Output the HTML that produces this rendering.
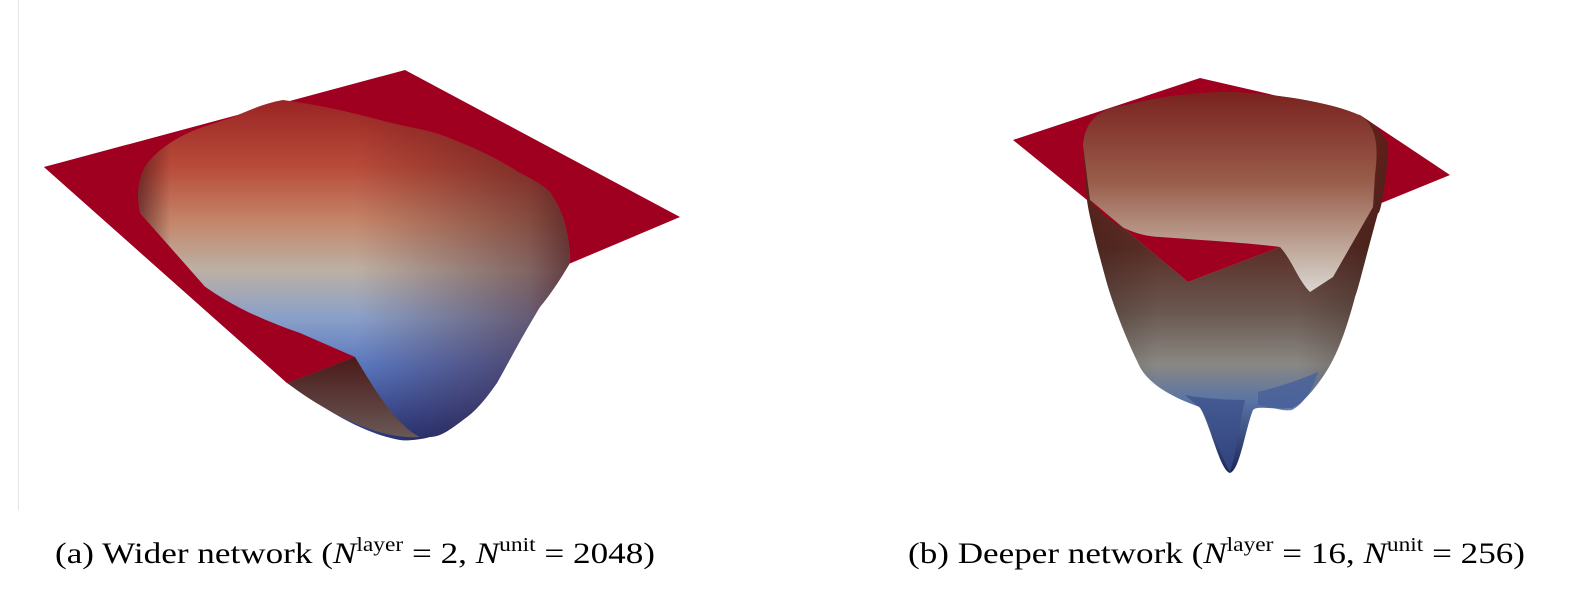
<!DOCTYPE html>
<html><head><meta charset="utf-8"><style>
html,body{margin:0;padding:0;background:#fff;}
svg{display:block;}
text{font-family:"Liberation Serif",serif;fill:#000;}
</style></head><body>
<svg width="1588" height="601" viewBox="0 0 1588 601">
<defs>
<linearGradient id="bowlA" x1="0" y1="100" x2="0" y2="440" gradientUnits="userSpaceOnUse">
<stop offset="0" stop-color="#9a2424"/>
<stop offset="0.2" stop-color="#b84c3a"/>
<stop offset="0.36" stop-color="#c4866a"/>
<stop offset="0.5" stop-color="#bcb0a4"/>
<stop offset="0.64" stop-color="#8aa0c8"/>
<stop offset="0.78" stop-color="#5a78c0"/>
<stop offset="1" stop-color="#26367c"/>
</linearGradient>
<linearGradient id="shadeA" x1="140" y1="0" x2="572" y2="0" gradientUnits="userSpaceOnUse">
<stop offset="0" stop-color="#3a0810" stop-opacity="0.55"/>
<stop offset="0.07" stop-color="#3a0810" stop-opacity="0"/>
<stop offset="0.5" stop-color="#3a0810" stop-opacity="0"/>
<stop offset="0.9" stop-color="#3a0810" stop-opacity="0.45"/>
<stop offset="1" stop-color="#3a0810" stop-opacity="0.7"/>
</linearGradient>
<linearGradient id="foldA" x1="0" y1="357" x2="0" y2="440" gradientUnits="userSpaceOnUse">
<stop offset="0" stop-color="#4a1a18"/>
<stop offset="1" stop-color="#6a5a58"/>
</linearGradient>
<linearGradient id="cupOut" x1="0" y1="150" x2="0" y2="475" gradientUnits="userSpaceOnUse">
<stop offset="0" stop-color="#7a2a22"/>
<stop offset="0.3" stop-color="#5a2e26"/>
<stop offset="0.5" stop-color="#6a5850"/>
<stop offset="0.66" stop-color="#8a8884"/>
<stop offset="0.77" stop-color="#5a74a4"/>
<stop offset="1" stop-color="#1a2458"/>
</linearGradient>
<linearGradient id="cupIn" x1="0" y1="95" x2="0" y2="290" gradientUnits="userSpaceOnUse">
<stop offset="0" stop-color="#7a2420"/>
<stop offset="0.45" stop-color="#9a5e4c"/>
<stop offset="0.8" stop-color="#c0aa9c"/>
<stop offset="1" stop-color="#d8d4d0"/>
</linearGradient>
<linearGradient id="cupShade" x1="1080" y1="0" x2="1390" y2="0" gradientUnits="userSpaceOnUse">
<stop offset="0" stop-color="#200808" stop-opacity="0.3"/>
<stop offset="0.25" stop-color="#200808" stop-opacity="0"/>
<stop offset="0.7" stop-color="#200808" stop-opacity="0"/>
<stop offset="1" stop-color="#200808" stop-opacity="0.35"/>
</linearGradient>
</defs>

<line x1="18.5" y1="0" x2="18.5" y2="510" stroke="#e4e4e4" stroke-width="1"/>

<g>
<polygon points="44,167 405,70 680,217 287,383" fill="#a00020"/>
<path id="bowlPath" d="M140,213 C135,190 140,170 150,160 C160,148 180,135 200,128 L233,117 C250,110 265,103 283,100 C320,105 350,112 380,120 C410,128 430,130 447,137 C480,150 500,160 520,173 C540,183 550,190 553,197 C565,215 570,240 570,263 C560,280 550,295 540,307 C520,340 510,360 497,383 C485,400 475,412 463,420 C450,430 440,437 430,437 C420,440 405,441 400,440 C370,435 330,415 290,383 Z" fill="url(#bowlA)"/>
<path d="M140,213 C135,190 140,170 150,160 C160,148 180,135 200,128 L233,117 C250,110 265,103 283,100 C320,105 350,112 380,120 C410,128 430,130 447,137 C480,150 500,160 520,173 C540,183 550,190 553,197 C565,215 570,240 570,263 C560,280 550,295 540,307 C520,340 510,360 497,383 C485,400 475,412 463,420 C450,430 440,437 430,437 C420,440 405,441 400,440 C370,435 330,415 290,383 Z" fill="url(#shadeA)"/>
<path d="M287,383 L355,357 C372,385 395,425 420,437 C380,440 330,415 287,383 Z" fill="url(#foldA)"/>
<path d="M44,167 L200,128 C180,135 160,148 150,160 C140,170 135,190 140,213 C150,240 170,265 200,283 C220,298 240,308 250,313 C270,322 285,328 300,333 L355,357 L287,383 Z" fill="#a00020"/>
</g>

<g>
<polygon points="1013,140 1200,78 1360,115 1450,175 1188,282" fill="#a00020"/>
<path d="M1083,145 C1085,120 1100,108 1127,105 C1160,96 1200,92 1233,92 C1290,95 1340,105 1363,117 C1385,130 1390,145 1388,155 C1385,190 1380,215 1378,213 C1365,260 1358,290 1355,297 C1345,335 1335,360 1322,378 C1310,395 1300,405 1292,408 C1270,410 1258,405 1253,410 C1245,430 1240,470 1230,473 C1220,470 1212,430 1200,407 C1165,395 1145,380 1138,363 C1122,330 1110,295 1106,280 C1095,240 1088,210 1087,200 Z" fill="url(#cupOut)"/>
<path d="M1083,145 C1085,120 1100,108 1127,105 C1160,96 1200,92 1233,92 C1290,95 1340,105 1363,117 C1385,130 1390,145 1388,155 C1385,190 1380,215 1378,213 C1365,260 1358,290 1355,297 C1345,335 1335,360 1322,378 C1310,395 1300,405 1292,408 C1270,410 1258,405 1253,410 C1245,430 1240,470 1230,473 C1220,470 1212,430 1200,407 C1165,395 1145,380 1138,363 C1122,330 1110,295 1106,280 C1095,240 1088,210 1087,200 Z" fill="url(#cupShade)"/>
<path d="M1258,392 C1275,388 1300,380 1318,372 C1312,392 1302,405 1292,410 C1280,412 1268,405 1258,405 Z" fill="#48609a" opacity="0.8"/>
<path d="M1185,395 C1200,398 1225,400 1245,400 C1240,420 1236,455 1230,472 C1222,460 1212,425 1200,408 Z" fill="#3a4f8a" opacity="0.7"/>
<path d="M1083,145 C1085,120 1100,108 1127,105 C1160,96 1200,92 1233,92 C1290,95 1340,105 1363,117 C1378,130 1378,150 1375,175 L1373,207 L1333,277 L1310,292 C1298,280 1292,260 1280,247 L1188,282 L1090,200 Z" fill="url(#cupIn)"/>
<path d="M1090,200 C1110,225 1135,236 1160,237 C1200,240 1250,243 1280,247 L1188,282 Z" fill="#a00020"/>
</g>

<text x="55" y="563" font-size="30" textLength="600" lengthAdjust="spacingAndGlyphs">(a) Wider network (<tspan font-style="italic">N</tspan><tspan font-size="20" dy="-12">layer</tspan><tspan dy="12"> = 2, </tspan><tspan font-style="italic">N</tspan><tspan font-size="20" dy="-12">unit</tspan><tspan dy="12"> = 2048)</tspan></text>
<text x="908" y="563" font-size="30" textLength="617" lengthAdjust="spacingAndGlyphs">(b) Deeper network (<tspan font-style="italic">N</tspan><tspan font-size="20" dy="-12">layer</tspan><tspan dy="12"> = 16, </tspan><tspan font-style="italic">N</tspan><tspan font-size="20" dy="-12">unit</tspan><tspan dy="12"> = 256)</tspan></text>
</svg>
</body></html>
